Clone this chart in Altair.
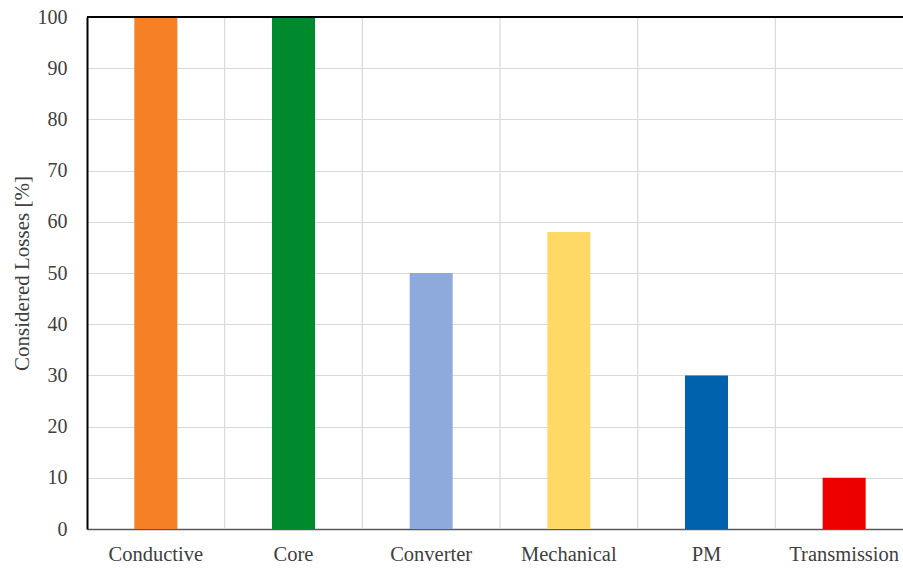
import altair as alt
import pandas as pd

categories = ["Conductive", "Core", "Converter", "Mechanical", "PM", "Transmission"]
values = [100, 100, 50, 58, 30, 10]
colors = ["#F58025", "#008A2E", "#8EA9DB", "#FFD966", "#0061AD", "#EE0000"]

df = pd.DataFrame({"cat": categories, "val": values, "color": colors})

W = 816
H = 512
xscale = alt.Scale(domain=categories, range=[0, 826], paddingInner=0, paddingOuter=0)
yscale = alt.Scale(domain=[0, 100], nice=False)

font = "'Liberation Serif', 'Times New Roman', serif"

bars = alt.Chart(df).mark_bar(size=43).encode(
    x=alt.X("cat:N", scale=xscale, sort=categories,
            axis=alt.Axis(title=None, labelAngle=0, labelAlign="center", labelBaseline="top",
                          labelFont=font, labelFontSize=20.5,
                          labelColor="#404040", labelPadding=15, ticks=False, grid=False,
                          domainColor="#595959", domainWidth=1.5, labelOverlap=False,
                          labelFlush=False)),
    y=alt.Y("val:Q", scale=yscale,
            axis=alt.Axis(title="Considered Losses [%]", titleFont=font, titleFontSize=21,
                          titleFontWeight="normal", titleColor="#404040", titlePadding=5,
                          labelFont=font, labelFontSize=20, labelColor="#404040",
                          labelPadding=20, ticks=False, values=list(range(0, 101, 10)),
                          gridColor="#D9D9D9", gridWidth=1.2, domainColor="#000000",
                          domainWidth=2)),
    color=alt.Color("color:N", scale=None),
)

vgrid = alt.Chart(df.iloc[1:]).mark_rule(color="#D9D9D9", strokeWidth=1.2).encode(
    x=alt.X("cat:N", scale=xscale, sort=categories, bandPosition=0),
    y=alt.value(0),
    y2=alt.value(H),
)

top = alt.Chart(df.iloc[:1]).mark_rule(color="#000000", strokeWidth=2).encode(
    x=alt.value(0), x2=alt.value(W), y=alt.value(0)
)

chart = alt.layer(vgrid, bars, top).properties(
    width=W, height=H,
    autosize=alt.AutoSizeParams(type="none"),
    padding={"left": 87, "top": 17, "right": 0, "bottom": 40},
).configure_view(stroke=None).configure(background="white")

chart.save("out.html", embed_options={"renderer": "svg", "actions": False})
